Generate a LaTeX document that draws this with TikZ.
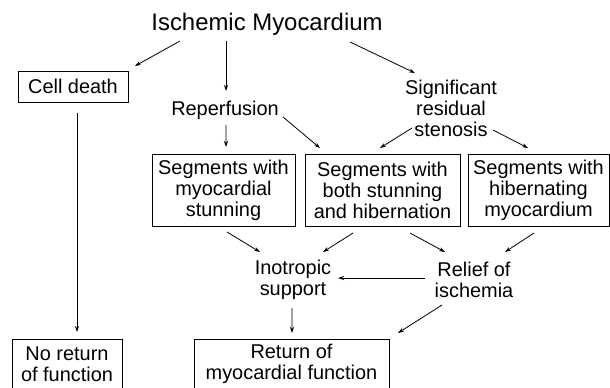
\documentclass[tikz,border=0pt]{standalone}
\usepackage{fontspec}
\setmainfont{Liberation Sans}
\usetikzlibrary{arrows.meta,calc}

\tikzset{
  txt/.style={align=center, inner sep=0pt, font=\fontsize{20}{21}\selectfont},
  segbox/.style={txt, draw, line width=0.8pt, minimum height=72bp},
  arr/.style={-{Stealth[length=6pt,width=4pt]}, line width=0.8pt}
}

\begin{document}
\begin{tikzpicture}[x=1bp, y=-1bp]
  \clip (0,0) rectangle (610,387);

  \node[txt, font=\fontsize{24}{26}\selectfont] (isch) at (267,24) {Ischemic Myocardium};
  \node[txt, draw, line width=0.8pt, minimum width=110bp, minimum height=31bp] (death) at (73,86.5) {Cell death};
  \node[txt] (reperf) at (225,110) {Reperfusion};
  \node[txt] (sten) at (451,108) {Significant\\residual\\stenosis};

  \node[segbox, minimum width=143bp] (stun) at (223.5,190) {Segments with\\myocardial\\stunning};
  \node[segbox, minimum width=155bp] (both) at (382.5,190) {Segments with\\both stunning\\and hibernation};
  \node[segbox, minimum width=141bp] (hib) at (538.5,190.5) {Segments with\\hibernating\\myocardium};

  \node[txt] (inot) at (293,280) {Inotropic\\support};
  \node[txt] (relief) at (474,280) {Relief of\\ischemia};

  \node[txt, draw, line width=0.8pt, minimum width=110bp, minimum height=50bp] (noret) at (67,364) {No return\\of function};
  \node[txt, draw, line width=0.8pt, minimum width=195bp, minimum height=50bp] (ret) at (291.5,364) {Return of\\myocardial function};

  \draw[arr] ($(isch)+(-87,17)$) -- ($(death)+(62,-20.5)$);
  \draw[arr] ($(isch)+(-41,17)$) -- ($(reperf)+(1,-19)$);
  \draw[arr] ($(isch)+(83,18)$) -- ($(sten)+(-36,-35)$);
  \draw[arr] ($(reperf)+(1,15)$) -- ($(stun)+(2.5,-43)$);
  \draw[arr] ($(reperf)+(58,7)$) -- ($(both)+(-62.5,-42)$);
  \draw[arr] ($(sten)+(-39,20)$) -- ($(both)+(-2.5,-42)$);
  \draw[arr] ($(sten)+(42,22)$) -- ($(hib)+(-10.5,-42.5)$);
  \draw[arr] ($(death)+(4,26.5)$) -- ($(noret)+(10,-32)$);
  \draw[arr] ($(stun)+(3.5,42)$) -- ($(inot)+(-33,-28)$);
  \draw[arr] ($(both)+(-29.5,43)$) -- ($(inot)+(30,-28)$);
  \draw[arr] ($(both)+(27.5,43)$) -- ($(relief)+(-29,-28)$);
  \draw[arr] ($(hib)+(-4.5,42.5)$) -- ($(relief)+(31,-28)$);
  \draw[arr] ($(relief)+(-49,-2)$) -- ($(inot)+(45,-2)$);
  \draw[arr] ($(inot)+(-1,28)$) -- ($(ret)+(0.5,-31)$);
  \draw[arr] ($(relief)+(-32,25)$) -- ($(ret)+(106.5,-31)$);
\end{tikzpicture}
\end{document}
